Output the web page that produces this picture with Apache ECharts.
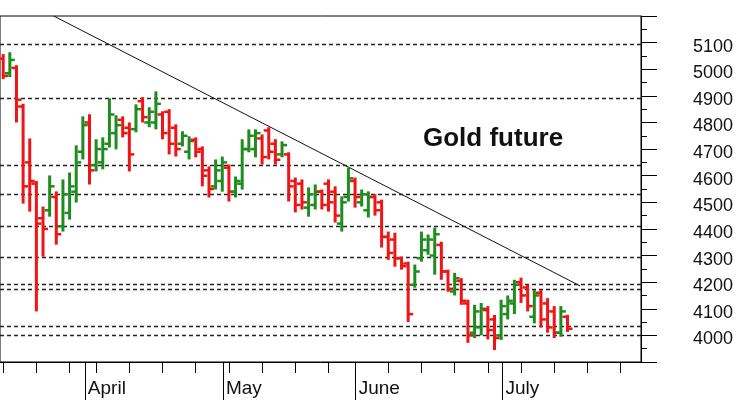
<!DOCTYPE html>
<html>
<head>
<meta charset="utf-8">
<title>Gold future</title>
<script src="https://cdn.jsdelivr.net/npm/echarts@6.0.0/dist/echarts.min.js"></script>
<style>
  html, body { margin: 0; padding: 0; background: #fff; }
  #chart { width: 740px; height: 416px; }
</style>
</head>
<body>
<div id="chart"></div>
<script>
  // daily bars, one entry per trading day (index = day number)
  var opens  = [5040, 4985, 5005, 4860, 4650, 4570, 4440, 4470, 4520, 4410,
                4460, 4540, 4690, 4800, 4640, 4650, 4720, 4760, 4810, 4780,
                4775, 4880, 4800, 4800, 4830, 4840, 4780, 4720, 4690, 4735,
                4700, 4620, 4560, 4580, 4630, 4540, 4570, 4700, 4700, 4740,
                4770, 4720, 4680, 4680, 4580, 4570, 4480, 4490, 4540, 4570,
                4540, 4420, 4520, 4580, 4500, 4470, 4520, 4500, 4370, 4360,
                4290, 4270, 4190, 4290, 4320, 4300, 4340, 4240, 4165, 4205,
                4120, 4010, 4030, 4095, 4060, 4000, 4080, 4120, 4200, 4180,
                4070, 4160, 4120, 4090, 4010, 4070]
  var highs  = [5057, 5064, 5015, 4870, 4740, 4580, 4484, 4601, 4541, 4586,
                4612, 4714, 4823, 4831, 4737, 4744, 4891, 4827, 4823, 4800,
                4868, 4895, 4857, 4917, 4842, 4850, 4793, 4767, 4748, 4744,
                4710, 4635, 4661, 4672, 4642, 4597, 4737, 4774, 4774, 4755,
                4782, 4737, 4729, 4688, 4593, 4586, 4556, 4567, 4548, 4586,
                4560, 4522, 4631, 4593, 4548, 4541, 4530, 4510, 4390, 4386,
                4296, 4277, 4266, 4390, 4379, 4405, 4352, 4247, 4235, 4215,
                4134, 4115, 4122, 4110, 4077, 4134, 4150, 4209, 4217, 4190,
                4171, 4171, 4140, 4110, 4110, 4077]
  var lows   = [4963, 4970, 4800, 4495, 4465, 4090, 4296, 4446, 4341, 4390,
                4435, 4499, 4661, 4567, 4616, 4624, 4706, 4699, 4744, 4616,
                4763, 4800, 4782, 4774, 4737, 4680, 4672, 4710, 4661, 4669,
                4560, 4518, 4548, 4540, 4503, 4518, 4548, 4688, 4669, 4642,
                4661, 4642, 4669, 4503, 4462, 4473, 4446, 4473, 4473, 4465,
                4424, 4390, 4503, 4480, 4484, 4443, 4450, 4330, 4284, 4258,
                4247, 4050, 4179, 4277, 4303, 4228, 4209, 4164, 4150, 4115,
                3972, 3990, 4000, 3985, 3945, 3983, 4060, 4080, 4122, 4090,
                4045, 4030, 4010, 3990, 3995, 4013]
  var closes = [4975, 5035, 4885, 4560, 4580, 4420, 4400, 4560, 4380, 4530,
                4560, 4650, 4790, 4620, 4700, 4700, 4830, 4790, 4760, 4680,
                4850, 4820, 4840, 4870, 4760, 4720, 4700, 4750, 4730, 4690,
                4600, 4550, 4620, 4650, 4540, 4580, 4700, 4750, 4760, 4670,
                4690, 4660, 4715, 4560, 4490, 4500, 4530, 4540, 4490, 4500,
                4450, 4500, 4590, 4520, 4530, 4520, 4470, 4370, 4310, 4290,
                4260, 4080, 4240, 4360, 4360, 4380, 4240, 4175, 4215, 4130,
                4000, 4090, 4100, 4020, 3990, 4110, 4130, 4190, 4150, 4110,
                4150, 4060, 4030, 4010, 4090, 4025]

  // support / resistance levels (dashed) and the falling trend line
  var levels = [5095, 4890, 4640, 4530, 4410, 4295, 4193, 4175, 4035, 4000]
  var trendLine = [[7.6, 5200], [86.9, 4186]]

  // axis marks: Monday of each week, first day of each month
  var weekTicks = [0, 5, 10, 14, 19, 24, 29, 34, 39, 44, 49, 58, 63, 68, 73, 78, 83, 88, 93]
  var monthStarts = [12.3, 33.1, 53.1, 75.2]
  var monthNames = ['April', 'May', 'June', 'July']

  var upColor = '#1f8c1f'
  var downColor = '#f01414'

  var bars = opens.map(function (o, i) {
    return [i, o, highs[i], lows[i], closes[i]]
  })

  function renderBar(params, api) {
    var i = api.value(0)
    var open = api.value(1)
    var close = api.value(4)
    var h = api.coord([i, api.value(2)])
    var l = api.coord([i, api.value(3)])
    var o = api.coord([i, open])
    var c = api.coord([i, close])
    var color = close >= open ? upColor : downColor
    var w = 3
    var t = 3.5
    return {
      type: 'group',
      children: [
        { type: 'line', shape: { x1: h[0], y1: h[1], x2: l[0], y2: l[1] }, style: { stroke: color, lineWidth: w, lineCap: 'butt' } },
        { type: 'line', shape: { x1: o[0] - w / 2 - t, y1: o[1], x2: o[0], y2: o[1] }, style: { stroke: color, lineWidth: 2.5 } },
        { type: 'line', shape: { x1: c[0], y1: c[1], x2: c[0] + w / 2 + t, y2: c[1] }, style: { stroke: color, lineWidth: 2.5 } }
      ]
    }
  }

  var chart = echarts.init(document.getElementById('chart'), null, { renderer: 'canvas' })
  chart.setOption({
    animation: false,
    backgroundColor: '#fff',
    textStyle: { fontFamily: 'Liberation Sans, Arial, sans-serif' },
    title: {
      text: 'Gold future',
      left: 418,
      top: 121,
      textStyle: { fontSize: 26, fontWeight: 'bold', color: '#111', fontFamily: 'Liberation Sans, Arial, sans-serif' }
    },
    grid: {
      left: -2,
      right: 99,
      top: 16,
      bottom: 54,
      show: true,
      borderColor: '#000',
      borderWidth: 1,
      backgroundColor: '#fff'
    },
    xAxis: [
      {
        type: 'value',
        min: -0.48,
        max: 96.07,
        position: 'bottom',
        axisLine: { show: true, onZero: false, lineStyle: { color: '#000', width: 1 } },
        axisTick: { show: true, customValues: weekTicks, length: 11, lineStyle: { color: '#000' } },
        axisLabel: { show: false },
        splitLine: { show: false }
      },
      {
        type: 'value',
        min: -0.48,
        max: 96.07,
        position: 'bottom',
        axisLine: { show: false, onZero: false },
        axisTick: { show: true, customValues: monthStarts, length: 38, lineStyle: { color: '#000' } },
        axisLabel: {
          show: true,
          customValues: monthStarts,
          align: 'left',
          margin: 17,
          padding: [0, 0, 0, 3],
          fontSize: 19,
          color: '#111',
          formatter: function (v) {
            for (var k = 0; k < monthStarts.length; k++) {
              if (Math.abs(monthStarts[k] - v) < 0.01) return monthNames[k]
            }
            return ''
          }
        },
        splitLine: { show: false }
      }
    ],
    yAxis: {
      type: 'value',
      position: 'right',
      min: 3900,
      max: 5200,
      interval: 100,
      axisLine: { show: true, onZero: false, lineStyle: { color: '#000', width: 1 } },
      axisTick: { show: true, length: 16, lineStyle: { color: '#000' } },
      minorTick: { show: true, splitNumber: 2, length: 6, lineStyle: { color: '#000' } },
      axisLabel: {
        margin: 52,
        fontSize: 18,
        color: '#111',
        verticalAlign: 'top',
        lineHeight: 8,
        formatter: function (v) {
          return (v >= 4000 && v <= 5100) ? v : ''
        }
      },
      splitLine: { show: false }
    },
    series: [
      {
        type: 'line',
        data: [],
        silent: true,
        markLine: {
          silent: true,
          symbol: 'none',
          label: { show: false },
          lineStyle: { color: '#222', type: [4, 3], width: 1.3 },
          data: levels.map(function (v) { return { yAxis: v } })
        }
      },
      {
        type: 'line',
        data: trendLine,
        symbol: 'none',
        silent: true,
        clip: true,
        lineStyle: { color: '#111', width: 1 }
      },
      {
        type: 'custom',
        renderItem: renderBar,
        encode: { x: 0, y: [1, 2, 3, 4] },
        data: bars,
        z: 5
      }
    ]
  })
</script>
</body>
</html>
